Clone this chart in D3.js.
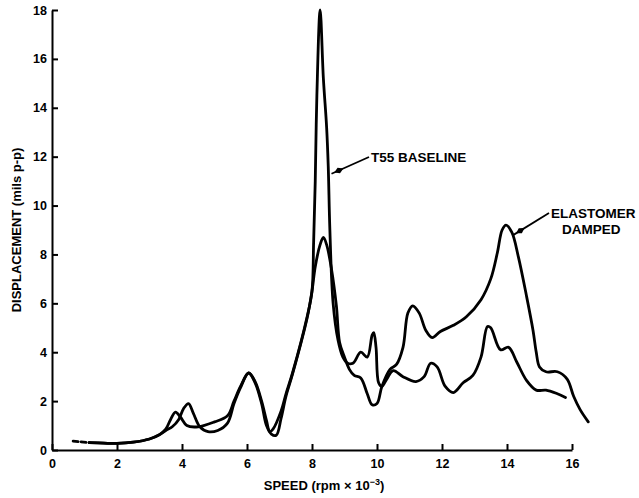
<!DOCTYPE html>
<html>
<head>
<meta charset="utf-8">
<script src="https://cdn.jsdelivr.net/npm/d3@7"></script>
<style>
  body { margin: 0; background: #fff; }
  text { font-family: "Liberation Sans", Arial, sans-serif; font-weight: bold; fill: #000; }
  .axis path, .axis line { stroke: #000; stroke-width: 2; }
  .curve { fill: none; stroke: #000; stroke-width: 2.8; stroke-linejoin: round; stroke-linecap: round; }
</style>
</head>
<body>
<svg class="chart" width="639" height="498"></svg>
<script>
// dashed lead-in shared by both runs
var leadSpeed = [0.65, 1.15];
var leadDisp = [0.36, 0.3];

// T55 baseline
var baseSpeed = [1.15, 1.6, 2.0, 2.5, 3.0, 3.3, 3.5, 3.65, 3.8, 3.95, 4.15, 4.5, 5.0, 5.4, 5.6, 5.8, 6.05, 6.25, 6.45, 6.6, 6.7, 6.8,
    7.05, 7.2, 7.4, 7.85, 8.0, 8.05, 8.1, 8.15, 8.25, 8.35, 8.45, 8.5, 8.55, 8.65, 8.8, 8.95, 9.1, 9.26, 9.5, 9.7, 9.85, 9.9, 9.97,
    10.05, 10.15, 10.3, 10.5, 10.8, 11.2, 11.45, 11.65, 11.85, 12.1, 12.35, 12.65, 12.95, 13.2, 13.4, 13.5, 13.8, 14.05, 14.3,
    14.6, 14.9, 15.2, 15.55, 15.8];
var baseDisp = [0.3, 0.28, 0.27, 0.32, 0.45, 0.62, 0.85, 1.25, 1.55, 1.35, 1.0, 0.95, 1.15, 1.4, 2.0, 2.6, 3.15, 2.8, 2.0, 1.2, 0.75, 0.85,
    1.6, 2.3, 3.15, 5.45, 6.5, 8.5, 11.0, 14.5, 18.0, 15.2, 13.2, 11.6, 9.0, 6.0, 4.5, 3.8, 3.55, 3.55, 4.0, 3.8, 4.7, 4.8, 4.2,
    2.75, 2.6, 2.9, 3.25, 3.0, 2.8, 3.0, 3.55, 3.4, 2.6, 2.35, 2.75, 3.05, 3.8, 5.05, 5.0, 4.1, 4.2, 3.6,
    2.85, 2.45, 2.45, 2.3, 2.15];

// elastomer damped
var elasSpeed = [1.15, 1.6, 2.0, 2.5, 3.0, 3.3, 3.5, 3.7, 3.9, 4.05, 4.2, 4.35, 4.55, 4.8, 5.1, 5.4, 5.6, 5.8, 6.05, 6.25, 6.45, 6.6, 6.75, 6.9,
    7.05, 7.2, 7.4, 7.85, 8.0, 8.1, 8.25, 8.35, 8.45, 8.6, 8.75, 8.85, 9.0, 9.15, 9.3, 9.5, 9.7, 9.85, 10.0, 10.15, 10.4, 10.6,
    10.8, 10.95, 11.1, 11.3, 11.5, 11.7, 11.95, 12.35, 12.75, 13.2, 13.5, 13.7, 13.85, 13.97, 14.15, 14.35, 14.6, 14.8, 14.9,
    15.0, 15.2, 15.55, 15.85, 16.05, 16.25, 16.5];
var elasDisp = [0.3, 0.28, 0.27, 0.32, 0.45, 0.62, 0.8, 0.95, 1.25, 1.7, 1.9, 1.5, 0.95, 0.75, 0.8, 1.1, 1.9, 2.55, 3.15, 2.75, 1.9, 1.0, 0.65, 0.6,
    1.3, 2.2, 3.1, 5.4, 6.5, 7.5, 8.4, 8.7, 8.4, 7.4, 5.9, 4.4, 3.8, 3.3, 3.05, 2.95, 2.3, 1.85, 1.9, 2.6, 3.3, 3.5,
    4.2, 5.6, 5.9, 5.6, 4.9, 4.6, 4.85, 5.1, 5.45, 6.15, 7.0, 8.05, 9.0, 9.2, 8.9, 7.9, 6.3, 4.9, 4.0,
    3.4, 3.2, 3.2, 2.9, 2.2, 1.65, 1.15];

var xTicks = [0, 2, 4, 6, 8, 10, 12, 14, 16];
var yTicks = [0, 2, 4, 6, 8, 10, 12, 14, 16, 18];

var svg = d3.select('.chart');

var xScale = d3.scaleLinear().domain([0, 16]).range([52, 572]);
var yScale = d3.scaleLinear().domain([0, 18]).range([450, 10]);

function toPoints(sx, sy) {
    return sx.map(function (s, i) { return [s, sy[i]]; });
}

var line = d3.line()
    .x(function (d) { return xScale(d[0]); })
    .y(function (d) { return yScale(d[1]); })
    .curve(d3.curveCatmullRom.alpha(0.5));

// axes
var xAxis = d3.axisBottom(xScale).tickValues(xTicks).tickSizeInner(-6).tickSizeOuter(0).tickPadding(9);
var yAxis = d3.axisLeft(yScale).tickValues(yTicks).tickSizeInner(-6).tickSizeOuter(0).tickPadding(5);

svg.append("g")
    .attr("class", "axis")
    .attr("transform", "translate(0," + yScale(0) + ")")
    .call(xAxis)
    .selectAll("text").style("font-size", "12.5px");

svg.append("g")
    .attr("class", "axis")
    .attr("transform", "translate(" + xScale(0) + ",0)")
    .call(yAxis)
    .selectAll("text").style("font-size", "12.5px");

svg.selectAll(".axis text").attr("font-family", null);

// curves
svg.append("path").attr("class", "curve")
    .attr("d", line(toPoints(leadSpeed, leadDisp)))
    .style("stroke-dasharray", "5,3");
svg.append("path").attr("class", "curve").attr("d", line(toPoints(baseSpeed, baseDisp)));
svg.append("path").attr("class", "curve").attr("d", line(toPoints(elasSpeed, elasDisp)));

// axis titles
svg.append("text")
    .attr("transform", "translate(21,230) rotate(-90)")
    .attr("text-anchor", "middle")
    .style("font-size", "13px")
    .text("DISPLACEMENT (mils p-p)");

var xt = svg.append("text")
    .attr("x", 324).attr("y", 490)
    .attr("text-anchor", "middle")
    .style("font-size", "13px");
xt.append("tspan").text("SPEED (rpm \u00d7 10");
xt.append("tspan").attr("dy", -5).style("font-size", "9px").text("\u22123");
xt.append("tspan").attr("dy", 5).text(")");

// annotations
function callout(tipS, tipV, ex, ey, lines, tx) {
    var px = xScale(tipS), py = yScale(tipV);
    svg.append("line")
        .attr("x1", px).attr("y1", py).attr("x2", ex).attr("y2", ey)
        .attr("stroke", "#000").attr("stroke-width", 1.8);
    var ang = Math.atan2(ey - py, ex - px) * 180 / Math.PI;
    svg.append("path")
        .attr("d", "M0,0 L5,-3 L10,0 L5,3 Z")
        .attr("transform", "translate(" + px + "," + py + ") rotate(" + ang + ") translate(3,0)")
        .attr("fill", "#000");
    lines.forEach(function (t, i) {
        svg.append("text")
            .attr("x", tx[i]).attr("y", ey + 5 + i * 16)
            .style("font-size", "13.5px")
            .text(t);
    });
}

callout(8.6, 11.3, 369, 157, ["T55 BASELINE"], [371]);
callout(14.2, 8.8, 549, 213, ["ELASTOMER", "DAMPED"], [551, 562]);
</script>
</body>
</html>
